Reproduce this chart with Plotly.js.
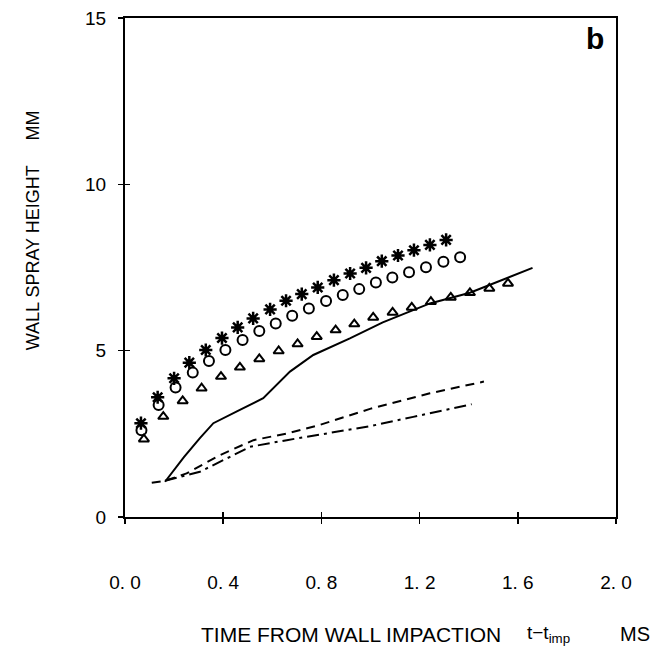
<!DOCTYPE html>
<html><head><meta charset="utf-8">
<script src="https://cdn.plot.ly/plotly-3.0.1.min.js"></script>
<style>body{margin:0;background:#fff}#g{width:666px;height:650px}</style>
</head><body><div id="g"></div>
<script>
const starX=[0.065,0.133,0.2,0.262,0.329,0.395,0.459,0.522,0.591,0.656,0.72,0.785,0.851,0.917,0.982,1.046,1.112,1.177,1.242,1.308];
const starY=[2.82,3.60,4.17,4.64,5.02,5.38,5.70,5.97,6.24,6.50,6.70,6.90,7.12,7.32,7.49,7.69,7.86,8.02,8.18,8.33];
const circX=[0.067,0.137,0.206,0.276,0.342,0.409,0.479,0.547,0.614,0.681,0.749,0.819,0.887,0.954,1.022,1.089,1.157,1.226,1.297,1.365];
const circY=[2.61,3.37,3.89,4.34,4.69,5.02,5.32,5.59,5.82,6.05,6.27,6.49,6.67,6.85,7.05,7.20,7.36,7.51,7.67,7.81];
const triX=[0.077,0.156,0.235,0.312,0.391,0.468,0.547,0.626,0.703,0.781,0.858,0.934,1.011,1.090,1.168,1.246,1.327,1.405,1.484,1.560];
const triY=[2.34,3.02,3.49,3.87,4.22,4.50,4.75,4.99,5.20,5.42,5.62,5.80,6.00,6.15,6.30,6.47,6.60,6.74,6.87,7.02];
const solidX=[0.163,0.24,0.305,0.36,0.468,0.563,0.672,0.767,0.916,1.05,1.242,1.405,1.66];
const solidY=[1.06,1.8,2.37,2.82,3.22,3.57,4.37,4.87,5.37,5.85,6.42,6.74,7.49];
const dashX=[0.109,0.163,0.251,0.387,0.523,0.659,0.794,0.998,1.242,1.462];
const dashY=[1.03,1.09,1.31,1.86,2.31,2.51,2.77,3.25,3.72,4.07];
const dotX=[0.163,0.305,0.428,0.509,0.659,0.835,0.998,1.174,1.412];
const dotY=[1.09,1.36,1.81,2.11,2.31,2.53,2.73,3.01,3.39];
const xTickVals=[0,0.4,0.8,1.2,1.6,2.0];
const xTickText=["0. 0","0. 4","0. 8","1. 2","1. 6","2. 0"];
const yTickVals=[0,5,10,15];
const yTickText=["0","5","10","15"];

const F="Liberation Sans, Arial, sans-serif";
const traces=[
 {x:solidX,y:solidY,mode:'lines',line:{color:'#000',width:2}},
 {x:dashX,y:dashY,mode:'lines',line:{color:'#000',width:2,dash:'9px,6px'}},
 {x:dotX,y:dotY,mode:'lines',line:{color:'#000',width:2,dash:'12px,5px,3px,5px'}},
 {x:starX,y:starY,mode:'markers',marker:{symbol:'asterisk-open',size:11,color:'#000',line:{color:'#000',width:2.5}}},
 {x:circX,y:circY,mode:'markers',marker:{symbol:'circle-open',size:10,color:'#000',line:{color:'#000',width:2}}},
 {x:triX,y:triY,mode:'markers',marker:{symbol:'triangle-up-open',size:9,color:'#000',line:{color:'#000',width:2}}},
 {x:[0],y:[0],xaxis:'x2',yaxis:'y2',mode:'markers',marker:{opacity:0},hoverinfo:'skip'}
];
const layout={
 width:666,height:650,showlegend:false,
 paper_bgcolor:'#fff',plot_bgcolor:'#fff',
 margin:{l:125,r:50,t:18,b:133},
 font:{family:F,color:'#000'},
 xaxis:{range:[0,2],tickvals:xTickVals,ticktext:xTickText,ticks:'outside',ticklen:5,tickwidth:1.5,tickcolor:'#000',
   showline:true,linecolor:'#000',linewidth:2,mirror:true,showgrid:false,zeroline:false,
   tickfont:{family:F,size:19},ticklabelstandoff:42},
 yaxis:{range:[0,15],tickvals:yTickVals,ticktext:yTickText,ticks:'outside',ticklen:5,tickwidth:1.5,tickcolor:'#000',
   showline:true,linecolor:'#000',linewidth:2,mirror:true,showgrid:false,zeroline:false,
   tickfont:{family:F,size:19},ticklabelstandoff:8},
 xaxis2:{overlaying:'x',range:[0,2],tickvals:xTickVals,ticks:'inside',ticklen:5,tickwidth:1.5,tickcolor:'#000',showticklabels:false,showgrid:false,zeroline:false,showline:false,anchor:'y2',side:'bottom'},
 yaxis2:{overlaying:'y',range:[0,15],tickvals:yTickVals,ticks:'inside',ticklen:5,tickwidth:1.5,tickcolor:'#000',showticklabels:false,showgrid:false,zeroline:false,showline:false,anchor:'x2',side:'left'},
 annotations:[
  {xref:'paper',yref:'paper',x:0.957,y:0.958,xanchor:'center',yanchor:'middle',text:'<b>b</b>',showarrow:false,font:{family:F,size:30}},
  {xref:'paper',yref:'paper',x:-0.187,y:0.575,xanchor:'center',yanchor:'middle',textangle:-90,showarrow:false,
   text:'WALL SPRAY HEIGHT     MM',font:{family:F,size:18}},
  {xref:'paper',yref:'paper',x:0.151,y:-0.235,xanchor:'left',yanchor:'middle',showarrow:false,
   text:'TIME FROM WALL IMPACTION',font:{family:F,size:21}},
  {xref:'paper',yref:'paper',x:0.815,y:-0.235,xanchor:'left',yanchor:'middle',showarrow:false,
   text:'t\u2212t<sub>imp</sub>',font:{family:F,size:19}},
  {xref:'paper',yref:'paper',x:1.005,y:-0.235,xanchor:'left',yanchor:'middle',showarrow:false,
   text:'MS',font:{family:F,size:20}}
 ]
};
Plotly.newPlot('g',traces,layout,{staticPlot:true});
</script></body></html>
